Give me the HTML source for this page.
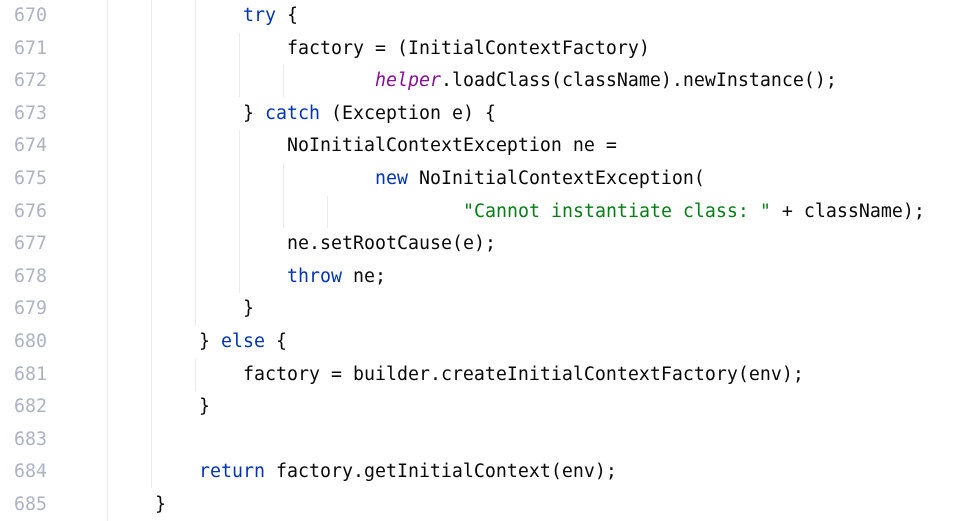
<!DOCTYPE html>
<html><head><meta charset="utf-8"><style>
html,body{margin:0;padding:0;background:#fff;width:955px;height:521px;overflow:hidden;position:relative}
.ln,.c{position:absolute;font-family:"DejaVu Sans Mono","Liberation Mono",monospace;font-size:18.27px;line-height:32.6px;white-space:pre;height:32.6px}
.ln{left:0;width:47px;text-align:right;color:#aeb3c2}
.c{color:#080808}
.k{color:#0033b3}.p{color:#871094;font-style:italic}.s{color:#067d17}
.g{position:absolute;width:1px;background:#ebebeb}
</style></head><body>
<div class="g" style="left:107px;top:0;height:521px"></div>
<div class="g" style="left:151px;top:0;height:488px"></div>
<div class="g" style="left:195px;top:0;height:326px"></div>
<div class="g" style="left:195px;top:359px;height:32px"></div>
<div class="g" style="left:239px;top:33px;height:64px"></div>
<div class="g" style="left:239px;top:130px;height:163px"></div>
<div class="g" style="left:283px;top:65px;height:32px"></div>
<div class="g" style="left:283px;top:163px;height:65px"></div>
<div class="g" style="left:327px;top:196px;height:32px"></div>

<div class="ln" style="top:0px">670</div><div class="c" style="top:0px;left:243px"><span class="k">try</span> {</div>
<div class="ln" style="top:32.6px">671</div><div class="c" style="top:32.6px;left:287px">factory = (InitialContextFactory)</div>
<div class="ln" style="top:65.2px">672</div><div class="c" style="top:65.2px;left:375px"><span class="p">helper</span>.loadClass(className).newInstance();</div>
<div class="ln" style="top:97.8px">673</div><div class="c" style="top:97.8px;left:243px">} <span class="k">catch</span> (Exception e) {</div>
<div class="ln" style="top:130.4px">674</div><div class="c" style="top:130.4px;left:287px">NoInitialContextException ne =</div>
<div class="ln" style="top:163px">675</div><div class="c" style="top:163px;left:375px"><span class="k">new</span> NoInitialContextException(</div>
<div class="ln" style="top:195.6px">676</div><div class="c" style="top:195.6px;left:463px"><span class="s">"Cannot instantiate class: "</span> + className);</div>
<div class="ln" style="top:228.2px">677</div><div class="c" style="top:228.2px;left:287px">ne.setRootCause(e);</div>
<div class="ln" style="top:260.8px">678</div><div class="c" style="top:260.8px;left:287px"><span class="k">throw</span> ne;</div>
<div class="ln" style="top:293.4px">679</div><div class="c" style="top:293.4px;left:243px">}</div>
<div class="ln" style="top:326px">680</div><div class="c" style="top:326px;left:199px">} <span class="k">else</span> {</div>
<div class="ln" style="top:358.6px">681</div><div class="c" style="top:358.6px;left:243px">factory = builder.createInitialContextFactory(env);</div>
<div class="ln" style="top:391.2px">682</div><div class="c" style="top:391.2px;left:199px">}</div>
<div class="ln" style="top:423.8px">683</div>
<div class="ln" style="top:456.4px">684</div><div class="c" style="top:456.4px;left:199px"><span class="k">return</span> factory.getInitialContext(env);</div>
<div class="ln" style="top:489px">685</div><div class="c" style="top:489px;left:155px">}</div>
</body></html>
